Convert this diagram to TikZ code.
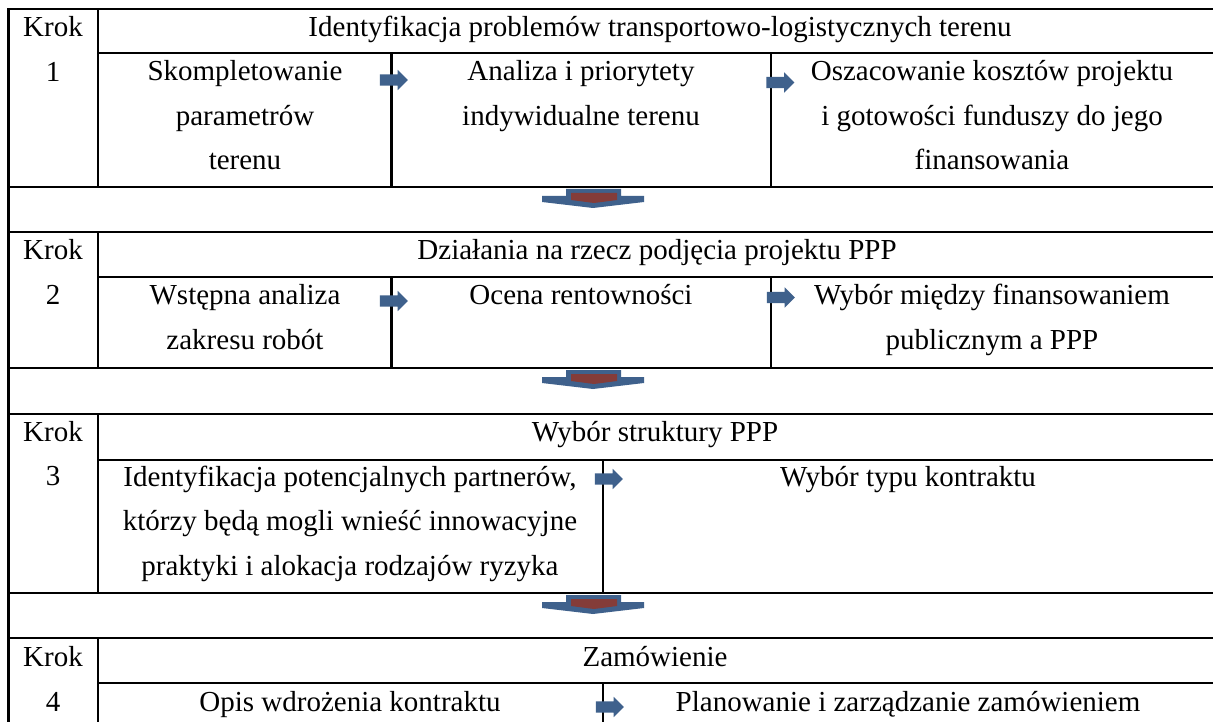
\documentclass[tikz,border=0pt]{standalone}
\usepackage{fontspec}
\setmainfont{Liberation Serif}
\usetikzlibrary{shapes.arrows}
\definecolor{arrblue}{RGB}{63,97,140}
\definecolor{arrred}{RGB}{132,60,57}
\tikzset{
  grid/.style={line width=2.8pt, line cap=rect},
  txt/.style={font=\fontsize{29}{44.5}\selectfont, align=center, anchor=base, inner sep=0pt},
  smallarrow/.style={shape=single arrow, fill=arrblue, draw=none, inner sep=0pt,
    text height=5.5pt, text depth=5.5pt, text width=0pt,
    minimum height=28pt, single arrow head extend=4.5pt,
    single arrow head indent=0pt},
  bigarrow/.pic={
    \fill[arrblue] (-27,0) -- (28,0) -- (28,7) -- (51,7) -- (51,13) -- (0,19) -- (-51,13) -- (-51,7) -- (-27,7) -- cycle;
    \fill[arrred] (-22,4) -- (24,4) -- (24,11) -- (1,14) -- (-22,11) -- cycle;
  }
}
\begin{document}
\begin{tikzpicture}[x=1pt,y=-1pt]
\useasboundingbox (0,0) rectangle (1213,722);
\fill[white] (0,0) rectangle (1213,722);
% horizontal full lines
\foreach \y in {9,187,232,368,414,593,638} \draw[grid] (8.5,\y) -- (1216,\y);
% header separator lines
\foreach \y in {53,277,460,683} \draw[grid] (98,\y) -- (1216,\y);
% left border
\draw[grid] (8.5,9) -- (8.5,725);
% krok column lines
\draw[grid] (98,9) -- (98,187);
\draw[grid] (98,232) -- (98,368);
\draw[grid] (98,414) -- (98,593);
\draw[grid] (98,638) -- (98,725);
% sub-column dividers
\draw[grid] (391.5,53) -- (391.5,187);
\draw[grid] (771,53) -- (771,187);
\draw[grid] (391.5,277) -- (391.5,368);
\draw[grid] (771,277) -- (771,368);
\draw[grid] (603,460) -- (603,593);
\draw[grid] (603,683) -- (603,725);

% Step 1
\node[txt] (k1) at (53,81.5) {Krok\\1};
\node[txt] (h1) at (660,37) {Identyfikacja problemów transportowo-logistycznych terenu};
\node[txt] (s11) at (245,170) {Skompletowanie\\parametrów\\terenu};
\node[txt] (s12) at (581,125.5) {Analiza i priorytety\\indywidualne terenu};
\node[txt] (s13) at (992,170) {Oszacowanie kosztów projektu\\i gotowości funduszy do jego\\finansowania};
\node[smallarrow] (a11) at (391,80) {};
\node[smallarrow] (a12) at (777.5,82.5) {};
\pic at (593,189) {bigarrow};

% Step 2
\node[txt] (k2) at (53,304.5) {Krok\\2};
\node[txt] (h2) at (657,260) {Działania na rzecz podjęcia projektu PPP};
\node[txt] (s21) at (245,349) {Wstępna analiza\\zakresu robót};
\node[txt] (s22) at (581,304.5) {Ocena rentowności};
\node[txt] (s23) at (992,349) {Wybór między finansowaniem\\publicznym a PPP};
\node[smallarrow] (a21) at (391,301) {};
\node[smallarrow] (a22) at (778,297.5) {};
\pic at (593,370) {bigarrow};

% Step 3
\node[txt] (k3) at (53,485.5) {Krok\\3};
\node[txt] (h3) at (655,441) {Wybór struktury PPP};
\node[txt] (s31) at (350,575) {Identyfikacja potencjalnych partnerów,\\którzy będą mogli wnieść innowacyjne\\praktyki i alokacja rodzajów ryzyka};
\node[txt] (s32) at (908,486) {Wybór typu kontraktu};
\node[smallarrow] (a31) at (606,479) {};
\pic at (593,595) {bigarrow};

% Step 4
\node[txt] (k4) at (53,711) {Krok\\4};
\node[txt] (h4) at (655,666.5) {Zamówienie};
\node[txt] (s41) at (350,711) {Opis wdrożenia kontraktu};
\node[txt] (s42) at (908,711) {Planowanie i zarządzanie zamówieniem};
\node[smallarrow] (a41) at (607,707) {};
\end{tikzpicture}
\end{document}
